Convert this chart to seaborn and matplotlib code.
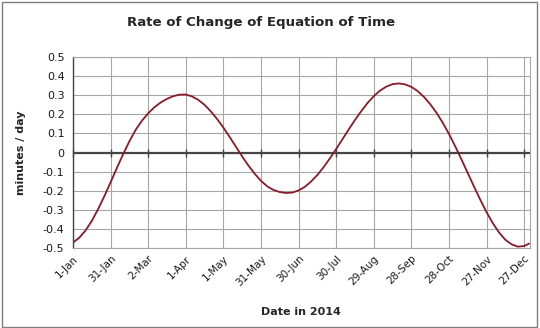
import matplotlib
matplotlib.use("Agg")
import matplotlib.pyplot as plt
from matplotlib.patches import Rectangle
import seaborn as sns
import pandas as pd

# Day of year (0 = 1 Jan 2014) and rate of change of the equation of time (minutes/day)
days = [0, 5, 10, 15, 20, 25, 30, 35, 40, 45, 50, 55, 60, 65, 70, 75, 80, 85, 90,
        95, 100, 105, 110, 115, 120, 125, 130, 135, 140, 145, 150, 155, 160, 165,
        170, 175, 180, 185, 190, 195, 200, 205, 210, 215, 220, 225, 230, 235, 240,
        245, 250, 255, 260, 265, 270, 275, 280, 285, 290, 295, 300, 305, 310, 315,
        320, 325, 330, 335, 340, 345, 350, 355, 360, 364]
rate = [-0.472, -0.447, -0.409, -0.359, -0.298, -0.230, -0.157, -0.082, -0.010,
        0.058, 0.118, 0.166, 0.205, 0.237, 0.262, 0.281, 0.295, 0.303, 0.304,
        0.294, 0.276, 0.250, 0.216, 0.176, 0.131, 0.082, 0.031, -0.020, -0.068,
        -0.111, -0.148, -0.177, -0.196, -0.207, -0.212, -0.210, -0.199, -0.180,
        -0.152, -0.118, -0.077, -0.031, 0.018, 0.069, 0.120, 0.170, 0.216, 0.259,
        0.295, 0.324, 0.345, 0.358, 0.362, 0.357, 0.344, 0.322, 0.292, 0.254,
        0.209, 0.157, 0.098, 0.033, -0.036, -0.107, -0.178, -0.247, -0.312,
        -0.370, -0.419, -0.457, -0.481, -0.493, -0.490, -0.477]

tick_days = [0, 30, 60, 90, 120, 150, 180, 210, 240, 270, 300, 330, 360]
tick_labels = ["1-Jan", "31-Jan", "2-Mar", "1-Apr", "1-May", "31-May", "30-Jun",
               "30-Jul", "29-Aug", "28-Sep", "28-Oct", "27-Nov", "27-Dec"]
y_ticks = [-0.5, -0.4, -0.3, -0.2, -0.1, 0, 0.1, 0.2, 0.3, 0.4, 0.5]
y_labels = ["-0.5", "-0.4", "-0.3", "-0.2", "-0.1", "0", "0.1", "0.2", "0.3", "0.4", "0.5"]

df = pd.DataFrame({"day": days, "rate": rate})

sns.set_style("white")
plt.rcParams["font.family"] = ["DejaVu Sans"]

fig = plt.figure(figsize=(5.4, 3.28), dpi=100)
ax = fig.add_axes([0.135, 0.244, 0.846, 0.582])

grid_col = "#a6a6a6"
axis_col = "#454545"

ax.set_xlim(0, 364.5)
ax.set_ylim(-0.5, 0.5)
ax.set_xticks(tick_days)
ax.set_xticklabels(tick_labels, rotation=45, ha="right", rotation_mode="anchor",
                   fontsize=7.5, color="#1a1a1a")
ax.set_yticks(y_ticks)
ax.set_yticklabels(y_labels, fontsize=8, color="#1a1a1a")
ax.grid(True, color=grid_col, linewidth=0.8)
ax.set_axisbelow(True)

ax.tick_params(axis="x", length=0, pad=4)
ax.tick_params(axis="y", length=4, width=0.9, color=axis_col, direction="out", pad=2)

for side in ("top", "right", "bottom"):
    ax.spines[side].set_color(grid_col)
    ax.spines[side].set_linewidth(0.8)
ax.spines["left"].set_color(axis_col)
ax.spines["left"].set_linewidth(1.0)

# Category axis crossing at zero, with tick marks straddling it
ax.axhline(0, color=axis_col, linewidth=1.6, zorder=3)
ax.plot(tick_days, [0] * len(tick_days), linestyle="none", marker="|",
        markersize=6, markeredgewidth=1.0, color=axis_col, zorder=3, clip_on=False)

sns.lineplot(data=df, x="day", y="rate", ax=ax, color="#8a1a2a", linewidth=1.3, zorder=5)

ax.set_xlabel("Date in 2014", fontsize=8, fontweight="bold", labelpad=14)
ax.set_ylabel("minutes / day", fontsize=8, fontweight="bold", labelpad=12)

fig.text(0.483, 0.932, "Rate of Change of Equation of Time", ha="center", va="center",
         fontsize=9.6, fontweight="bold")

fig.patches.append(Rectangle((0.004, 0.004), 0.99, 0.99, transform=fig.transFigure,
                             fill=False, edgecolor="#7f7f7f", linewidth=1.0))

fig.savefig("out.png", dpi=100)
